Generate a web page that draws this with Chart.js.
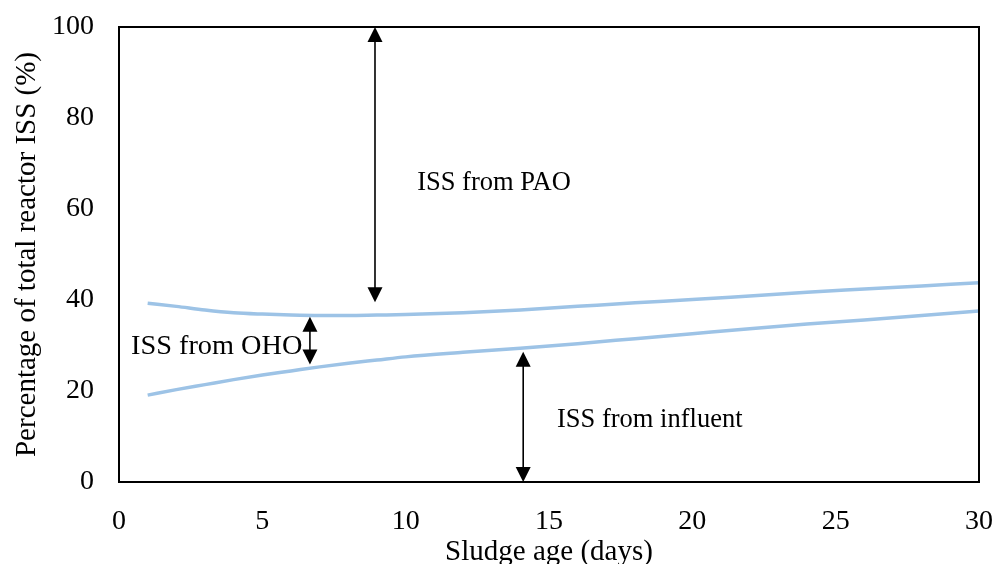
<!DOCTYPE html>
<html>
<head>
<meta charset="utf-8">
<script src="https://cdn.jsdelivr.net/npm/chart.js@4/dist/chart.umd.min.js"></script>
<style>
  html, body { margin: 0; padding: 0; background: #fff; }
  #wrap { width: 998px; height: 564px; }
</style>
</head>
<body>
<div id="wrap"><canvas id="c" width="998" height="564"></canvas></div>
<script>
// Sludge age (days)
const sludgeAge = [1, 2, 3, 4, 5, 6, 7, 8, 9, 10, 12, 14, 16, 18, 20, 22, 24, 26, 28, 30];
// Upper boundary: ISS from influent + OHO (% of total reactor ISS)
const influentPlusOho = [39.3, 38.6, 37.8, 37.2, 36.9, 36.7, 36.6, 36.6, 36.7, 36.8, 37.2, 37.8, 38.6, 39.4, 40.1, 40.9, 41.7, 42.4, 43.1, 43.8];
// Lower boundary: ISS from influent (% of total reactor ISS)
const influentOnly = [19.1, 20.3, 21.4, 22.5, 23.5, 24.4, 25.3, 26.1, 26.8, 27.5, 28.5, 29.4, 30.4, 31.5, 32.6, 33.7, 34.7, 35.6, 36.6, 37.6];

const xTicks = [0, 5, 10, 15, 20, 25, 30];
const yTicks = [0, 20, 40, 60, 80, 100];

// Double-headed arrows marking each fraction: x, from, to (data units)
const arrowX    = [8.93, 6.66, 14.1];
const arrowFrom = [39.5, 25.8, 0];
const arrowTo   = [100, 36.3, 28.6];

// Fraction labels, anchored at their left edge (data units)
const fractionLabels = ['ISS from PAO', 'ISS from OHO', 'ISS from influent'];
const labelX = [10.4, 0.42, 15.28];
const labelY = [65.7, 29.8, 13.6];

const serif = "'Liberation Serif', 'Times New Roman', serif";
const lineColor = '#9DC3E6';
const labelStyle = { sizes: [26.5, 28.3, 26.5] };

const toPoints = (xs, ys) => xs.map((x, i) => ({ x: x, y: ys[i] }));

const frameAndNotes = {
  id: 'frameAndNotes',
  afterDatasetsDraw(chart) {
    const { ctx, chartArea: a, scales: { x, y } } = chart;
    ctx.save();
    // plot frame
    ctx.strokeStyle = '#000';
    ctx.lineWidth = 2;
    ctx.strokeRect(a.left, a.top, a.right - a.left, a.bottom - a.top);

    // arrows
    const head = 15, half = 7.5;
    ctx.fillStyle = '#000';
    ctx.lineWidth = 1.6;
    arrowX.forEach((xv, i) => {
      const px = x.getPixelForValue(xv);
      const p1 = y.getPixelForValue(arrowFrom[i]); // lower tip
      const p2 = y.getPixelForValue(arrowTo[i]);   // upper tip
      ctx.beginPath();
      ctx.moveTo(px, p1 - head + 1);
      ctx.lineTo(px, p2 + head - 1);
      ctx.stroke();
      ctx.beginPath();
      ctx.moveTo(px, p2);
      ctx.lineTo(px - half, p2 + head);
      ctx.lineTo(px + half, p2 + head);
      ctx.closePath();
      ctx.fill();
      ctx.beginPath();
      ctx.moveTo(px, p1);
      ctx.lineTo(px - half, p1 - head);
      ctx.lineTo(px + half, p1 - head);
      ctx.closePath();
      ctx.fill();
    });

    // labels
    ctx.textAlign = 'left';
    ctx.textBaseline = 'middle';
    fractionLabels.forEach((t, i) => {
      ctx.font = labelStyle.sizes[i] + 'px ' + serif;
      ctx.fillText(t, x.getPixelForValue(labelX[i]), y.getPixelForValue(labelY[i]));
    });
    ctx.restore();
  }
};

new Chart(document.getElementById('c'), {
  type: 'line',
  data: {
    datasets: [
      {
        label: 'ISS from influent + OHO',
        data: toPoints(sludgeAge, influentPlusOho),
        borderColor: lineColor,
        borderWidth: 3.5,
        pointRadius: 0,
        cubicInterpolationMode: 'monotone',
        fill: false
      },
      {
        label: 'ISS from influent',
        data: toPoints(sludgeAge, influentOnly),
        borderColor: lineColor,
        borderWidth: 3.5,
        pointRadius: 0,
        cubicInterpolationMode: 'monotone',
        fill: false
      }
    ]
  },
  options: {
    responsive: false,
    animation: false,
    devicePixelRatio: 1,
    layout: { padding: { top: 27, right: 19, left: 0, bottom: 0 } },
    plugins: { legend: { display: false }, tooltip: { enabled: false } },
    scales: {
      x: {
        type: 'linear',
        min: 0,
        max: 30,
        afterBuildTicks: (s) => { s.ticks = xTicks.map(v => ({ value: v })); },
        afterFit: (s) => { s.height = 82; s.paddingLeft = 0; s.paddingRight = 0; },
        grid: { display: false, drawTicks: false },
        border: { display: false },
        ticks: { color: '#000', font: { family: serif, size: 28 }, padding: 23, maxRotation: 0 },
        title: {
          display: true,
          text: 'Sludge age (days)',
          color: '#000',
          font: { family: serif, size: 29, lineHeight: 1 },
          padding: { top: 0, bottom: -3 }
        }
      },
      y: {
        type: 'linear',
        min: 0,
        max: 100,
        afterBuildTicks: (s) => { s.ticks = yTicks.map(v => ({ value: v })); },
        afterFit: (s) => { s.width = 119; s.paddingTop = 0; s.paddingBottom = 0; },
        grid: { display: false, drawTicks: false },
        border: { display: false },
        ticks: { color: '#000', font: { family: serif, size: 28 }, padding: 25 },
        title: {
          display: true,
          text: 'Percentage of total reactor ISS (%)',
          color: '#000',
          font: { family: serif, size: 29, lineHeight: 1 },
          padding: { top: 13, bottom: 0 }
        }
      }
    }
  },
  plugins: [frameAndNotes]
});
</script>
</body>
</html>
